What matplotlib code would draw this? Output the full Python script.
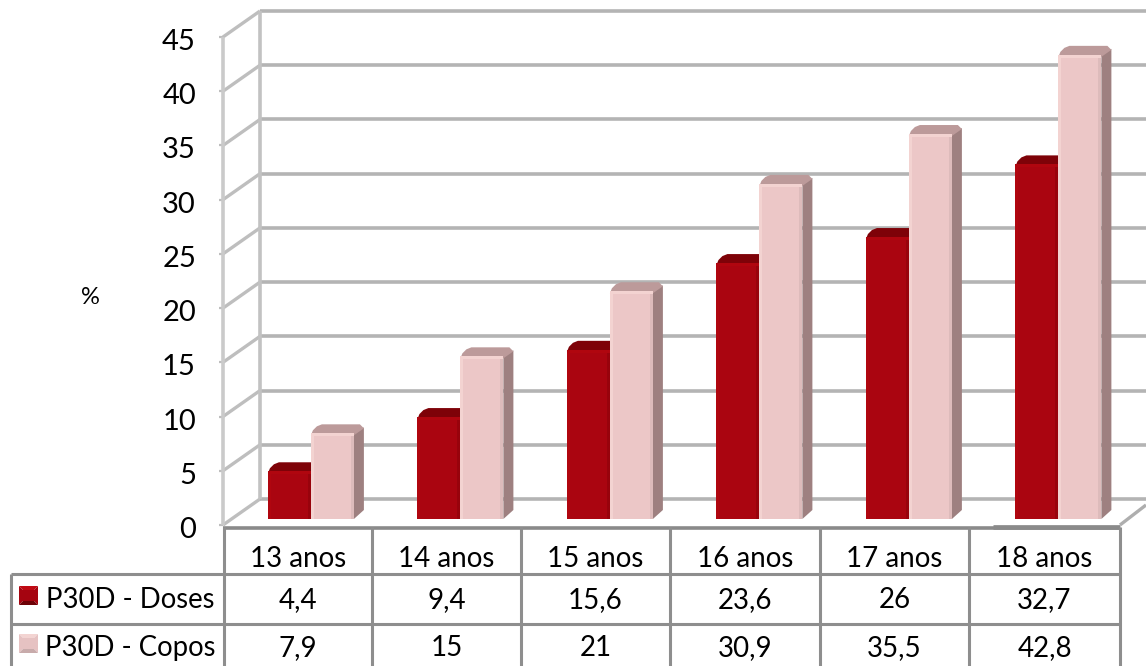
import matplotlib
matplotlib.use("Agg")
from matplotlib import pyplot as plt
from matplotlib.patches import Polygon, Rectangle
from matplotlib.transforms import IdentityTransform

WIDTH = 1146
HEIGHT = 666

categories = ["13 anos", "14 anos", "15 anos", "16 anos", "17 anos", "18 anos"]
doses = [4.4, 9.4, 15.6, 23.6, 26, 32.7]
copos = [7.9, 15, 21, 30.9, 35.5, 42.8]
doses_labels = ["4,4", "9,4", "15,6", "23,6", "26", "32,7"]
copos_labels = ["7,9", "15", "21", "30,9", "35,5", "42,8"]
y_ticks = [0, 5, 10, 15, 20, 25, 30, 35, 40, 45]

RED = {"face": "#AA0510", "edge": "#B0060F", "right": "#98030C", "top": "#7E0208", "side": "#6E0207"}
PINK = {"face": "#ECC7C7", "edge": "#F3D3D1", "right": "#DDBBBB", "top": "#BC9A9A", "side": "#9E8080"}

plt.rcParams["font.family"] = ["Lato", "DejaVu Sans"]

fig = plt.figure(figsize=(WIDTH / 100, HEIGHT / 100), dpi=100)
ax = fig.add_axes([223 / WIDTH, (HEIGHT - 525) / HEIGHT, 897 / WIDTH, 488 / HEIGHT])
ax.set_xlim(0, 6)
ax.set_ylim(0, 45)
ax.axis("off")

# overlay in pixel coordinates for the data table and loose labels
page = fig.add_axes([0, 0, 1, 1], zorder=-1)
page.set_xlim(0, WIDTH)
page.set_ylim(HEIGHT, 0)
page.axis("off")

WALL_DX, WALL_DY = 37, 26
BAR_DX, BAR_DY = 8, 6
DEPTH_X, DEPTH_Y = 10, 9
BAR_WIDTH = 0.2875
BAR_START = 0.247


def to_px(x, y):
    return ax.transData.transform((x, y))


def px_line(p, q, color, lw, z=1):
    ax.plot([p[0], q[0]], [p[1], q[1]], color=color, lw=lw, transform=IdentityTransform(),
            clip_on=False, zorder=z, solid_capstyle="butt")


def px_poly(points, color, z):
    ax.add_patch(Polygon(points, closed=True, facecolor=color, edgecolor="none",
                         transform=IdentityTransform(), clip_on=False, zorder=z))


def draw_bar(x, value, colors, z):
    x0, y0 = to_px(x, 0)
    x1, y1 = to_px(x + BAR_WIDTH, value)
    x0, x1 = x0 + BAR_DX, x1 + BAR_DX
    y0, y1 = y0 + BAR_DY, y1 + BAR_DY
    # side and top faces go behind the front face
    px_poly([(x1, y0), (x1 + DEPTH_X, y0 + DEPTH_Y), (x1 + DEPTH_X, y1 + DEPTH_Y - 3), (x1, y1)], colors["side"], z)
    px_poly([(x0, y1 - 2), (x0 + 2, y1 + 3), (x0 + 6, y1 + 7), (x0 + DEPTH_X + 1, y1 + DEPTH_Y),
             (x1 + DEPTH_X - 4, y1 + DEPTH_Y), (x1 + DEPTH_X, y1 + DEPTH_Y - 4), (x1, y1 - 2)], colors["top"], z)
    px_poly([(x0, y0), (x1, y0), (x1, y1), (x0, y1)], colors["face"], z + 0.1)
    # soft bevel along the front edges
    px_poly([(x0, y0), (x0 + 3, y0), (x0 + 3, y1), (x0, y1)], colors["edge"], z + 0.2)
    px_poly([(x1 - 3, y0), (x1, y0), (x1, y1), (x1 - 3, y1)], colors["right"], z + 0.2)
    px_poly([(x0, y1 - 3), (x1, y1 - 3), (x1, y1), (x0, y1)], colors["edge"], z + 0.2)


# back wall, side wall and floor
x_left, _ = to_px(0, 0)
x_right, y_floor = to_px(6, 0)
for tick in y_ticks:
    fx, fy = to_px(0, tick)
    px_line((fx, fy), (fx + WALL_DX, fy + WALL_DY), "#BEBEBE", 2.4, z=1)
    px_line((fx + WALL_DX, fy + WALL_DY), (WIDTH, fy + WALL_DY), "#B4B4B4", 2.6, z=1)
    px_line((fx - 4, fy), (fx, fy), "#BEBEBE", 1.6, z=1)
    ax.text(fx - 27, fy - 5, str(tick), transform=IdentityTransform(), ha="right", va="center",
            fontsize=21, color="black", clip_on=False)
_, y_top = to_px(0, 45)
px_line((x_left, y_floor), (x_left, y_top), "#CACACA", 2.6, z=1)
px_line((x_left + WALL_DX, y_floor + WALL_DY), (x_left + WALL_DX, y_top + WALL_DY), "#C2C2C2", 2.6, z=1)
px_line((x_right, y_floor), (WIDTH, y_floor + 20), "#AEAEAE", 2.4, z=1)

for i in range(len(categories)):
    draw_bar(i + BAR_START, doses[i], RED, 3 + i)
    draw_bar(i + BAR_START + BAR_WIDTH, copos[i], PINK, 3.5 + i)

# data table under the chart
LINE = "#8E8E8E"
col_edges = [223.5, 372, 521, 670, 820, 969, 1120]
row_lines = [574, 624]
text_rows = {559: categories, 600: doses_labels, 648: copos_labels}

page.plot([223, 1120], [528, 528], color="#8A8A8A", lw=2.6, solid_capstyle="butt")
page.plot([993, 1120], [527, 527], color="#8A8A8A", lw=3.4, solid_capstyle="butt")
for y_line in row_lines:
    page.plot([11, 1120], [y_line, y_line], color=LINE, lw=2.2, solid_capstyle="butt")
page.plot([11, 11], [574, HEIGHT], color=LINE, lw=2.2, solid_capstyle="butt")
for edge in col_edges:
    page.plot([edge, edge], [527, HEIGHT], color=LINE, lw=2.2, solid_capstyle="butt")

for y_text, row in text_rows.items():
    for i, label in enumerate(row):
        page.text((col_edges[i] + col_edges[i + 1]) / 2, y_text, label, ha="center", va="center",
                  fontsize=20, color="black")

page.text(46, 600, "P30D - Doses", ha="left", va="center", fontsize=19.8, color="black")
page.text(45, 648, "P30D - Copos", ha="left", va="center", fontsize=19.8, color="black")
page.text(90, 298, "%", ha="center", va="center", fontsize=17, color="black")


def legend_key(x, y, size, light, dark, mid):
    # little pyramid swatch: four shaded sides around a flat centre
    c = (x + size / 2, y + size / 2)
    page.add_patch(Polygon([(x, y), (x + size, y), c], facecolor=light, edgecolor="none"))
    page.add_patch(Polygon([(x, y), (x, y + size), c], facecolor=mid, edgecolor="none"))
    page.add_patch(Polygon([(x + size, y), (x + size, y + size), c], facecolor=mid, edgecolor="none"))
    page.add_patch(Polygon([(x, y + size), (x + size, y + size), c], facecolor=dark, edgecolor="none"))
    page.add_patch(Rectangle((x + 4, y + 4), size - 8, size - 8, facecolor=mid, edgecolor="none"))


legend_key(19, 586, 19, "#C00A14", "#6E0207", "#A50410")
legend_key(19, 634, 19, "#F3D4D2", "#C8ABAB", "#E6C2C2")

fig.savefig("out.png", dpi=100, facecolor="white")
